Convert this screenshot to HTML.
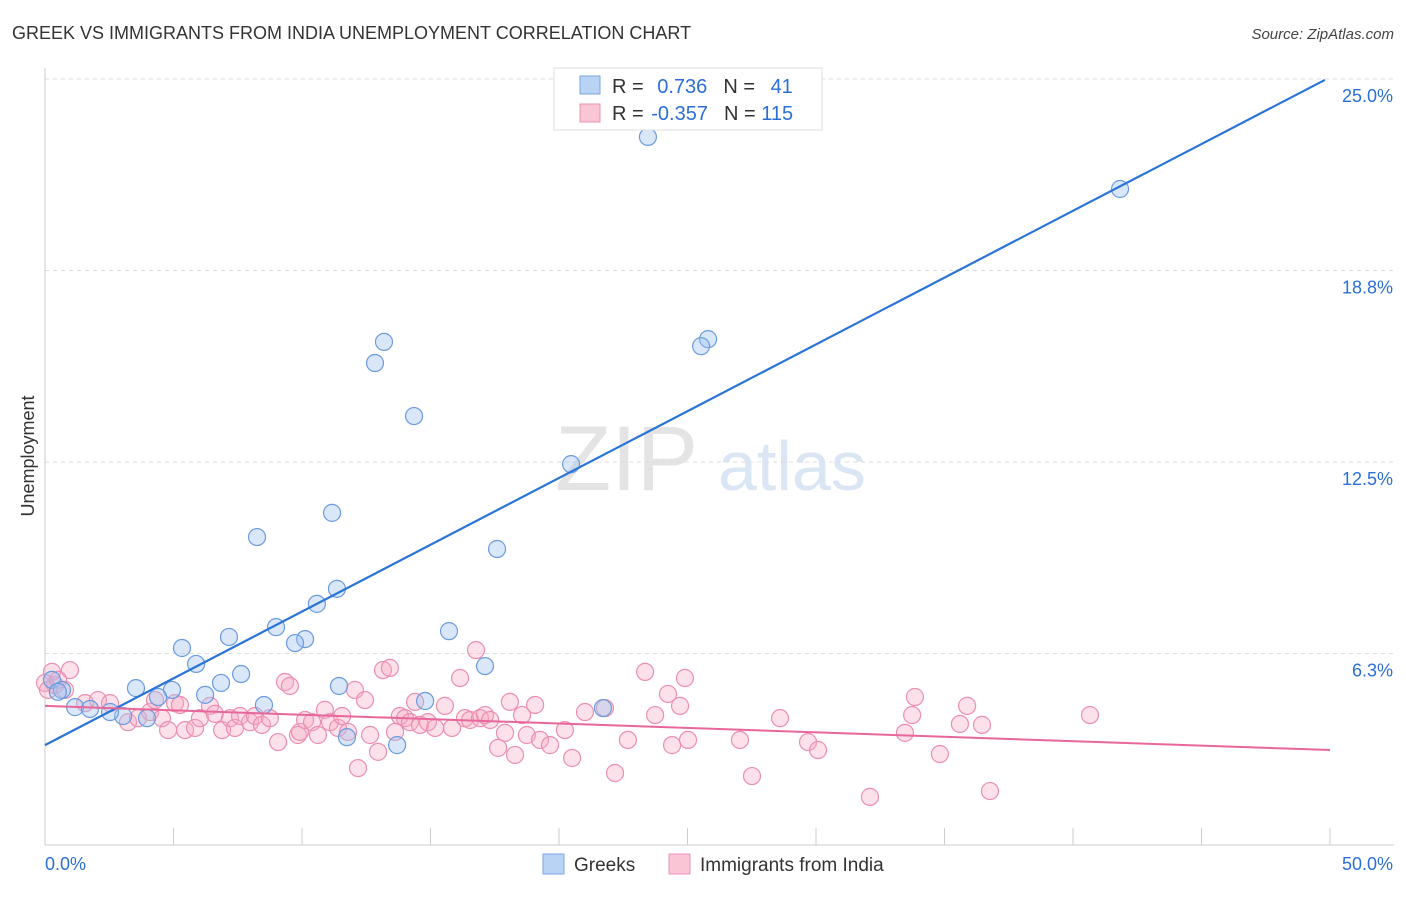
<!DOCTYPE html>
<html><head><meta charset="utf-8"><style>
body{margin:0;background:#fff;font-family:"Liberation Sans",sans-serif;}
svg text{font-family:"Liberation Sans",sans-serif;}
</style></head><body>
<svg id="chart" width="1406" height="892">
<text x="12" y="39" font-size="18" fill="#333">GREEK VS IMMIGRANTS FROM INDIA UNEMPLOYMENT CORRELATION CHART</text>
<text x="1394" y="39" font-size="15" fill="#444" font-style="italic" text-anchor="end">Source: ZipAtlas.com</text>
<text transform="translate(34,456) rotate(-90)" font-size="18" fill="#333" text-anchor="middle">Unemployment</text>
<g>
<text x="555" y="490" font-size="92" fill="#e4e4e4" font-family="Liberation Serif, serif">ZIP</text>
<text x="718" y="490" font-size="70" fill="#dbe6f5">atlas</text>
</g>
<g id="grid"></g><g id="axes"></g><g id="marks"></g>
<g>
<rect x="554" y="68" width="268" height="62" fill="#fff" stroke="#ddd"/>
<rect x="580" y="76" width="20" height="18" fill="#b9d3f5" stroke="#7aa6e0"/>
<rect x="580" y="104" width="20" height="18" fill="#f9c6d5" stroke="#ec93b0"/>
<text x="612" y="93" font-size="20" fill="#333">R = <tspan fill="#2b6fd6" dx="8">0.736</tspan><tspan fill="#333" dx="16">N = </tspan><tspan fill="#2b6fd6" dx="10">41</tspan></text>
<text x="612" y="120" font-size="20" fill="#333">R = <tspan fill="#2b6fd6" dx="2">-0.357</tspan><tspan fill="#333" dx="16">N = </tspan><tspan fill="#2b6fd6">115</tspan></text>
</g>
<g>
<rect x="543" y="854" width="21" height="20" fill="#b9d3f5" stroke="#7aa6e0"/>
<text x="574" y="871" font-size="19" fill="#333">Greeks</text>
<rect x="669" y="854" width="21" height="20" fill="#f9c6d5" stroke="#ec93b0"/>
<text x="700" y="871" font-size="19" fill="#333">Immigrants from India</text>
</g>
</svg>
<script>
const yTicks=[6.3,12.5,18.8,25.0];
const yTickVals=[6.25,12.5,18.75,25];
const xLabels=["0.0%","50.0%"];
const greekX=[23.46,41.83,13.19,12.84,25.80,25.53,14.36,20.47,11.17,8.25,17.59,11.36,10.58,15.72,8.99,7.16,10.12,9.73,5.33,5.88,17.12,7.63,6.85,0.27,0.66,3.54,4.94,6.23,4.40,11.44,8.52,14.79,21.71,1.17,1.75,3.04,3.97,11.75,13.70,2.53,0.5];
const greekY=[23.11,21.41,16.42,15.73,16.51,16.28,14.00,12.43,10.84,10.05,9.66,8.36,7.87,6.98,7.11,6.79,6.72,6.59,6.43,5.91,5.84,5.58,5.29,5.39,5.06,5.12,5.06,4.90,4.83,5.19,4.57,4.70,4.47,4.50,4.44,4.21,4.14,3.52,3.26,4.34,5.0];
const indiaX=[0.97,0.27,0.39,0.78,1.56,2.06,2.53,3.23,3.62,4.09,4.28,4.55,4.79,5.06,5.25,5.45,5.84,6.03,6.42,6.61,6.89,7.20,7.39,7.59,7.98,8.17,8.44,8.75,9.07,9.34,9.53,9.84,9.92,10.12,10.39,10.62,10.89,11.09,11.40,11.56,11.79,12.06,12.18,12.45,12.65,12.96,13.15,13.42,13.62,13.81,14.01,14.20,14.40,14.59,14.90,15.18,15.56,15.84,16.15,16.34,16.54,16.77,16.93,17.12,17.32,17.63,17.90,18.09,18.29,18.56,18.75,19.07,19.26,19.65,20.23,20.51,21.01,21.79,22.18,22.68,23.35,23.74,24.24,24.40,24.71,24.90,25.02,27.04,27.51,28.60,29.69,30.08,32.10,33.46,33.74,33.85,34.82,35.60,35.88,36.46,36.77,40.66,0.0,0.12,0.51];
const indiaY=[5.71,5.65,5.22,5.06,4.63,4.73,4.63,4.01,4.14,4.34,4.73,4.14,3.75,4.63,4.57,3.75,3.82,4.14,4.54,4.28,3.75,4.14,3.82,4.21,4.01,4.21,3.92,4.14,3.36,5.32,5.19,3.59,3.69,4.08,4.01,3.59,4.41,4.01,3.82,4.21,3.69,5.06,2.51,4.73,3.59,3.04,5.71,5.78,3.69,4.21,4.14,4.01,4.67,3.92,4.01,3.82,4.54,3.82,5.45,4.14,4.08,6.36,4.14,4.24,4.08,3.17,3.66,4.67,2.94,4.24,3.59,4.57,3.43,3.26,3.75,2.84,4.34,4.47,2.35,3.43,5.65,4.24,4.93,3.26,4.54,5.45,3.43,3.43,2.25,4.14,3.36,3.10,1.57,3.66,4.24,4.83,2.97,3.95,4.54,3.92,1.76,4.24,5.29,5.06,5.39];
const greekLine=[3.26,24.97];
const indiaLine=[4.54,3.10];
const lineX=[0,49.8];
const NS="http://www.w3.org/2000/svg";
const xs=v=>45+v*25.7, ys=v=>845-v*30.64;
function mk(parent,tag,attrs){const e=document.createElementNS(NS,tag);for(const k in attrs)e.setAttribute(k,attrs[k]);document.getElementById(parent).appendChild(e);return e;}
yTickVals.forEach((v,i)=>{
 const g=mk('grid','line',{x1:45,x2:1394,y1:ys(v),y2:ys(v),stroke:'#ddd','stroke-dasharray':'4,4'});
 
 
 const t=mk('axes','text',{x:1393,y:ys(v)+23,'font-size':18,fill:'#2b6fd6','text-anchor':'end'});
 t.textContent=yTicks[i].toFixed(1)+'%';
 
 
});
mk('axes','line',{x1:45,x2:45,y1:68,y2:845,stroke:'#ccc'});
mk('axes','line',{x1:45,x2:1394,y1:845,y2:845,stroke:'#ccc'});
for(let p=5;p<=50;p+=5){const l=mk('axes','line',{x1:xs(p),x2:xs(p),y1:828,y2:845,stroke:'#ccc'});
 
 }
const xl0=mk('axes','text',{x:45,y:870,'font-size':18,fill:'#2b6fd6'});xl0.textContent=xLabels[0];


const xl1=mk('axes','text',{x:1393,y:870,'font-size':18,fill:'#2b6fd6','text-anchor':'end'});xl1.textContent=xLabels[1];


indiaX.forEach((x,i)=>{const c=mk('marks','circle',{cx:xs(x),cy:ys(indiaY[i]),r:8.5,fill:'rgba(246,170,195,0.35)',stroke:'#ec8fae','stroke-width':1.2});
 
 });
greekX.forEach((x,i)=>{const c=mk('marks','circle',{cx:xs(x),cy:ys(greekY[i]),r:8.5,fill:'rgba(160,195,240,0.4)',stroke:'#6a9be0','stroke-width':1.2});
 
 });
const l1=mk('marks','line',{x1:xs(lineX[0]),x2:xs(lineX[1]),y1:ys(greekLine[0]),y2:ys(greekLine[1]),stroke:'#2a74d8','stroke-width':2.2});


const l2=mk('marks','line',{x1:xs(lineX[0]),x2:xs(50),y1:ys(indiaLine[0]),y2:ys(indiaLine[1]),stroke:'#e8679a','stroke-width':2});


</script>
</body></html>
